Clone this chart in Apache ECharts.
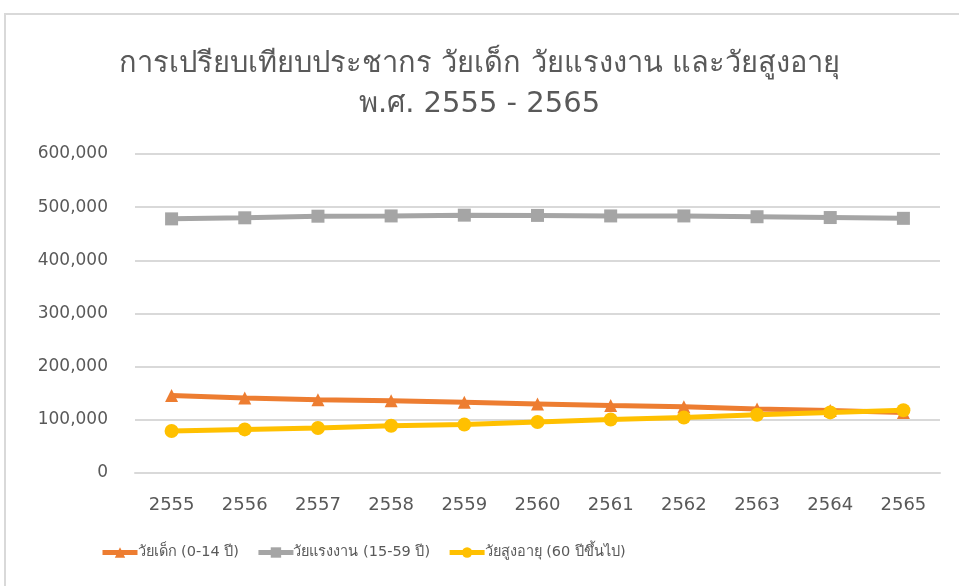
<!DOCTYPE html>
<html>
<head>
<meta charset="utf-8">
<script src="https://cdn.jsdelivr.net/npm/echarts@6/dist/echarts.min.js"></script>
<style>
  html, body { margin: 0; padding: 0; background: #fff; }
  #chart { width: 959px; height: 586px; }
</style>
</head>
<body>
<div id="chart"></div>
<script>
// years (พ.ศ.)
var years = ['2555', '2556', '2557', '2558', '2559', '2560', '2561', '2562', '2563', '2564', '2565'];

// population per age group
var children = [146000, 141000, 138000, 136000, 133000, 130000, 127000, 124500, 120500, 117500, 114000];
var working = [478000, 480000, 483000, 483500, 485000, 484500, 483500, 483500, 482000, 480500, 479000];
var elderly = [79000, 82000, 84500, 89000, 91000, 96000, 100500, 104500, 109500, 114000, 118000];

var seriesNames = ['วัยเด็ก (0-14 ปี)', 'วัยแรงงาน (15-59 ปี)', 'วัยสูงอายุ (60 ปีขึ้นไป)'];

var txt = '#595959';
var font = 'DejaVu Sans, Noto Sans, sans-serif';

var chart = echarts.init(document.getElementById('chart'));

function lineSeries(name, data, color, symbol, size) {
  return {
    name: name,
    type: 'line',
    data: data,
    symbol: symbol,
    symbolSize: size,
    itemStyle: { color: color },
    lineStyle: { color: color, width: 5 },
    animation: false
  };
}

chart.setOption({
  backgroundColor: '#fff',
  textStyle: { fontFamily: font },
  graphic: [{
    type: 'rect',
    shape: { x: 5, y: 14, width: 1200, height: 1000 },
    style: { fill: null, stroke: '#d9d9d9', lineWidth: 2 },
    silent: true
  }],
  title: {
    text: 'การเปรียบเทียบประชากร วัยเด็ก วัยแรงงาน และวัยสูงอายุ\nพ.ศ. 2555 - 2565',
    left: 'center',
    top: 39,
    textStyle: { color: txt, fontSize: 29, fontWeight: 'normal', lineHeight: 40, fontFamily: font, align: 'center' }
  },
  legend: {
    left: 100,
    top: 545,
    padding: 0,
    itemWidth: 35,
    itemHeight: 13,
    itemGap: 17,
    lineStyle: { width: 5 },
    textStyle: { color: txt, fontSize: 14.5, fontFamily: font, padding: [0, 0, 0, -5] },
    data: seriesNames
  },
  grid: { left: 135, right: 19, top: 154, bottom: 113 },
  xAxis: {
    type: 'category',
    data: years,
    boundaryGap: true,
    axisLine: { lineStyle: { color: '#d9d9d9', width: 2 } },
    axisTick: { show: false },
    axisLabel: { color: txt, fontSize: 18, margin: 23, fontFamily: font }
  },
  yAxis: {
    type: 'value',
    min: 0,
    max: 600000,
    interval: 100000,
    axisLine: { show: false },
    axisTick: { show: false },
    splitLine: { lineStyle: { color: '#d9d9d9', width: 2 } },
    axisLabel: {
      color: txt, fontSize: 17, margin: 27, fontFamily: font,
      formatter: function (v) { return v.toLocaleString('en-US'); }
    }
  },
  series: [
    lineSeries(seriesNames[0], children, '#ED7D31', 'triangle', 13),
    lineSeries(seriesNames[1], working, '#A5A5A5', 'rect', 13),
    lineSeries(seriesNames[2], elderly, '#FFC000', 'circle', 14)
  ]
});
</script>
</body>
</html>
